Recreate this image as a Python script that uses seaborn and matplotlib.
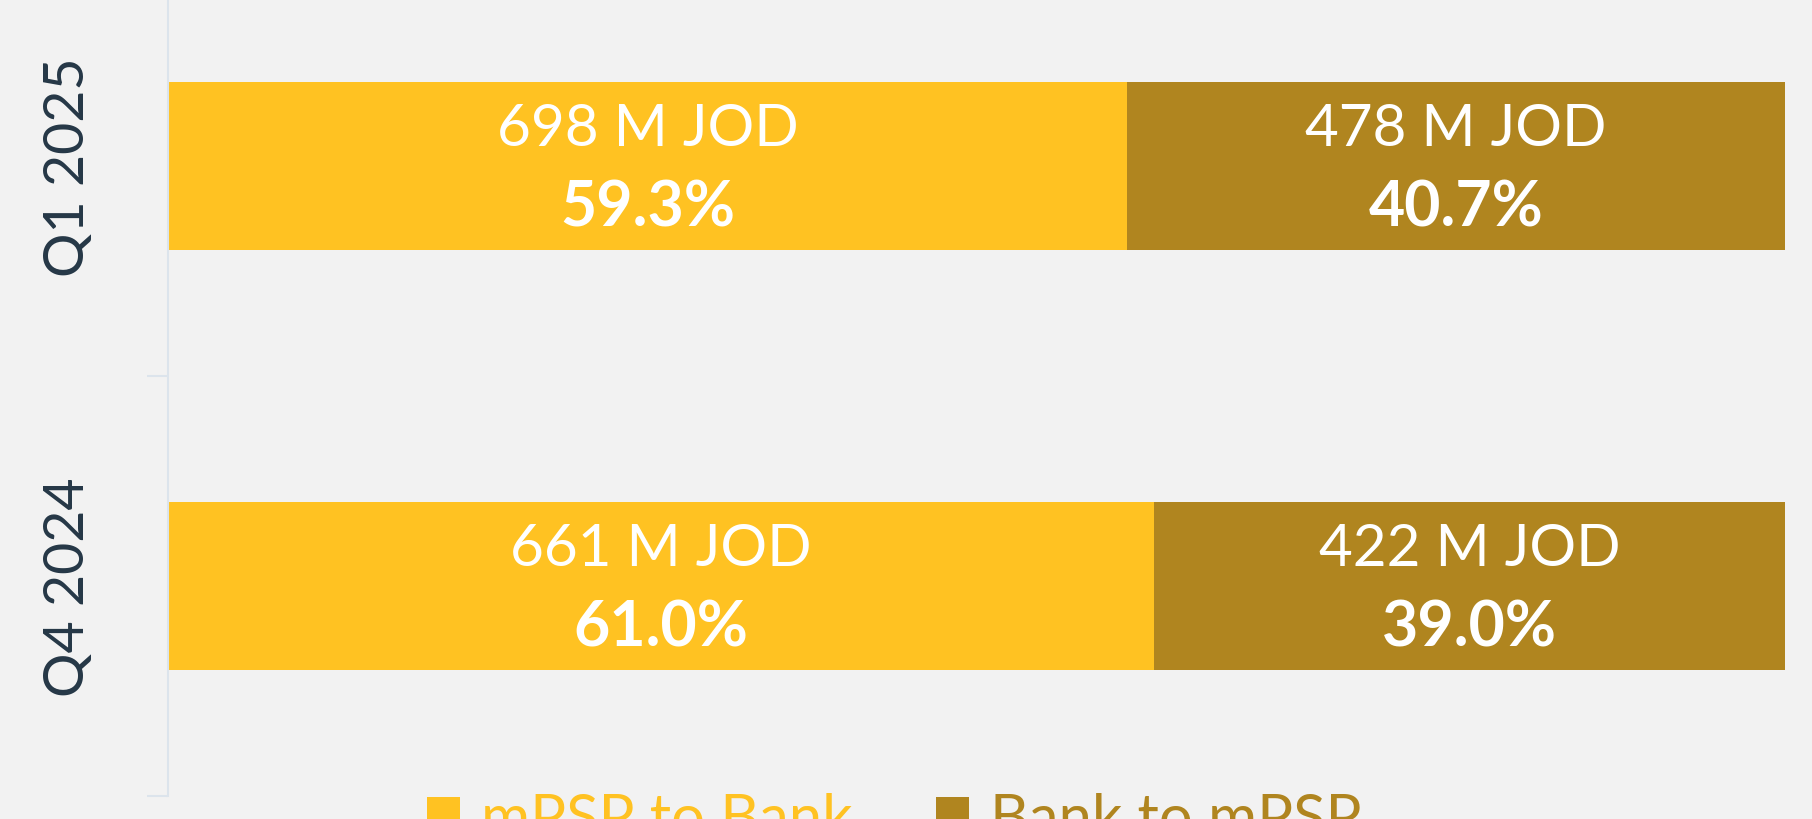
import pandas as pd
import matplotlib
matplotlib.use("Agg")
import matplotlib.pyplot as plt
import seaborn as sns

# data
periods = ["Q1 2025", "Q4 2024"]
mpsp_to_bank_mjod = [698, 661]
bank_to_mpsp_mjod = [478, 422]
mpsp_to_bank_pct = [59.3, 61.0]
bank_to_mpsp_pct = [40.7, 39.0]
series_names = ["mPSP to Bank", "Bank to mPSP"]

yellow = "#FFC222"
gold = "#B0851F"
bg = "#F2F2F2"
axis_col = "#DCE4EC"
tick_col = "#253746"

df = pd.DataFrame({
    "period": periods,
    "a_val": mpsp_to_bank_mjod,
    "b_val": bank_to_mpsp_mjod,
    "a_pct": mpsp_to_bank_pct,
    "b_pct": bank_to_mpsp_pct,
})
df["total_pct"] = df["a_pct"] + df["b_pct"]

sns.set_style("white")
plt.rcParams["font.family"] = ["Lato", "DejaVu Sans"]

fig = plt.figure(figsize=(18.12, 8.2), dpi=100, facecolor=bg)
ax = fig.add_axes([168 / 1812, 23 / 820, 1617 / 1812, 840 / 820])
ax.set_facecolor(bg)

# stacked bars: full bar in gold, first share drawn over it in yellow
sns.barplot(data=df, y="period", x="total_pct", order=periods, color=gold,
            width=0.4, saturation=1, linewidth=0, label=series_names[1], ax=ax)
sns.barplot(data=df, y="period", x="a_pct", order=periods, color=yellow,
            width=0.4, saturation=1, linewidth=0, label=series_names[0], ax=ax)
if ax.get_legend() is not None:
    ax.get_legend().remove()

n = len(periods)
gold_bars = ax.patches[:n]
yellow_bars = ax.patches[n:2 * n]

for i in range(n):
    yb = yellow_bars[i]
    gb = gold_bars[i]
    yc = yb.get_y() + yb.get_height() / 2
    xa = yb.get_x() + yb.get_width() / 2
    xb = (yb.get_width() + gb.get_width()) / 2
    for x, val, pct in [(xa, df["a_val"][i], df["a_pct"][i]),
                        (xb, df["b_val"][i], df["b_pct"][i])]:
        ax.annotate(f"{val} M JOD", (x, yc), xytext=(0, 27), textcoords="offset points",
                    ha="center", va="center", fontsize=42, fontweight="normal", color="white")
        ax.annotate(f"{pct:.1f}%", (x, yc), xytext=(0, -30), textcoords="offset points",
                    ha="center", va="center", fontsize=45, fontweight="bold", color="white")

ax.set_xlim(0, 100)
ax.set_ylim(1.5, -0.5)
ax.set_xlabel("")
ax.set_ylabel("")
ax.set_xticks([])

ax.set_yticks(range(n))
ax.set_yticklabels(periods, rotation=90, va="center", fontsize=40, color=tick_col)
ax.set_yticks([-0.5, 0.5, 1.5], minor=True)
ax.tick_params(axis="y", which="major", left=True, length=0, pad=53)
ax.tick_params(axis="y", which="minor", left=True, length=15, width=1.5, color=axis_col)

for s in ["top", "right", "bottom"]:
    ax.spines[s].set_visible(False)
ax.spines["left"].set_color(axis_col)
ax.spines["left"].set_linewidth(1.5)

handles, labels = ax.get_legend_handles_labels()
handles, labels = handles[::-1], labels[::-1]
leg = fig.legend(handles, labels, loc="upper left", bbox_to_anchor=(427 / 1812, 0.033),
                 ncol=2, frameon=False, borderpad=0, borderaxespad=0,
                 handlelength=0.56, handleheight=0.56, handletextpad=0.34,
                 columnspacing=1.4, prop={"weight": "normal", "size": 43})
for txt, col in zip(leg.get_texts(), [yellow, gold]):
    txt.set_color(col)

fig.savefig("out.png", dpi=100, facecolor=bg)
